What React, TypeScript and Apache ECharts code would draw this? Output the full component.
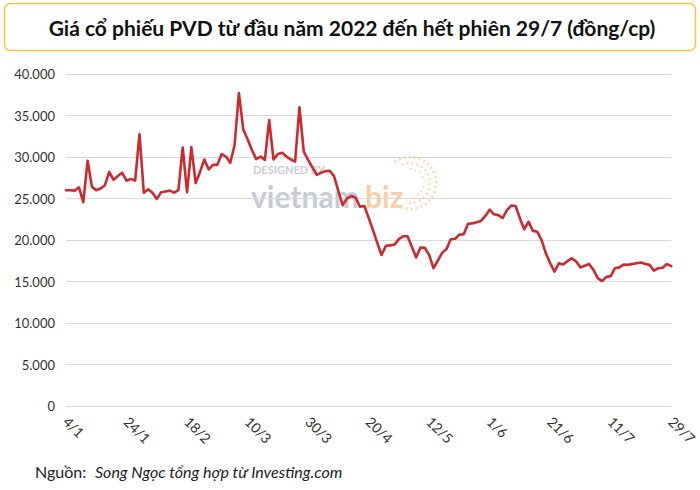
import React, { useEffect, useRef } from "react";
import * as echarts from "echarts";

const TITLE = "Giá cổ phiếu PVD từ đầu năm 2022 đến hết phiên 29/7 (đồng/cp)";

const dates: string[] = [
  "4/1","5/1","6/1","7/1","10/1","11/1","12/1","13/1","14/1","17/1","18/1","19/1","20/1","21/1","24/1","25/1","26/1","27/1","28/1",
  "7/2","8/2","9/2","10/2","11/2","14/2","15/2","16/2","17/2","18/2","21/2","22/2","23/2","24/2","25/2","28/2",
  "1/3","2/3","3/3","4/3","7/3","8/3","9/3","10/3","11/3","14/3","15/3","16/3","17/3","18/3","21/3","22/3","23/3","24/3","25/3","28/3","29/3","30/3","31/3",
  "1/4","4/4","5/4","6/4","7/4","8/4","12/4","13/4","14/4","15/4","18/4","19/4","20/4","21/4","22/4","25/4","26/4","27/4","28/4","29/4",
  "4/5","5/5","6/5","9/5","10/5","11/5","12/5","13/5","16/5","17/5","18/5","19/5","20/5","23/5","24/5","25/5","26/5","27/5","30/5","31/5",
  "1/6","2/6","3/6","6/6","7/6","8/6","9/6","10/6","13/6","14/6","15/6","16/6","17/6","20/6","21/6","22/6","23/6","24/6","27/6","28/6","29/6","30/6",
  "1/7","4/7","5/7","6/7","7/7","8/7","11/7","12/7","13/7","14/7","15/7","18/7","19/7","20/7","21/7","22/7","25/7","26/7","27/7","28/7","29/7",
];

const prices: number[] = [
  26000, 26000, 25950, 26350, 24550, 29550, 26400, 26000, 26200, 26600,
  28200, 27250, 27700, 28100, 27150, 27350, 27150, 32750, 25700, 26100,
  25700, 24950, 25750, 25850, 25950, 25700, 26000, 31150, 25750, 31200,
  26850, 28200, 29700, 28500, 29050, 29050, 30350, 30050, 29300, 31450,
  37700, 33350, 32150, 30850, 29750, 30050, 29650, 34450, 29700, 30350,
  30500, 30050, 29700, 29450, 36000, 30650, 29650, 28750, 27850, 28100,
  28300, 28350, 27700, 25900, 24200, 25000, 25300, 25100, 24000, 24100,
  22700, 21200, 19650, 18200, 19300, 19350, 19450, 20100, 20450, 20450,
  19200, 17900, 19100, 19050, 18200, 16600, 17500, 18450, 18900, 20100,
  20150, 20650, 20700, 21950, 22000, 22150, 22300, 22900, 23650, 23100,
  23000, 22650, 23600, 24150, 24100, 22600, 21300, 22200, 21100, 21000,
  20000, 18400, 17200, 16200, 17200, 17050, 17450, 17800, 17400, 16700,
  16900, 17100, 16400, 15400, 15050, 15550, 15650, 16600, 16700, 17050,
  17000, 17100, 17200, 17300, 17100, 17000, 16300, 16600, 16650, 17100, 16850,
];

const yMax = 40000;
const yStep = 5000;

const FONT = "Lato, 'Noto Sans', sans-serif";

export default function App() {
  const ref = useRef<HTMLDivElement>(null);
  useEffect(() => {
    if (!ref.current) return;
    const chart = echarts.init(ref.current, undefined, { renderer: "svg" });
    chart.setOption({
      animation: false,
      backgroundColor: "#ffffff",
      grid: { left: 66, right: 28, top: 74, bottom: 84, containLabel: false },
      xAxis: {
        type: "category",
        data: dates,
        boundaryGap: false,
        axisLine: { show: true, lineStyle: { color: "#d9d9d9", width: 1 } },
        axisTick: { show: false },
        axisLabel: {
          interval: 13,
          rotate: -45,
          margin: 13,
          color: "#333333",
          fontSize: 14,
          fontFamily: FONT,
        },
        splitLine: { show: false },
      },
      yAxis: {
        type: "value",
        min: 0,
        max: yMax,
        interval: yStep,
        axisLine: { show: false },
        axisTick: { show: false },
        axisLabel: {
          color: "#333333",
          fontSize: 13,
          fontFamily: FONT,
          margin: 11,
          formatter: (v: number) => (v === 0 ? "0" : `${v / 1000}.000`),
        },
        splitLine: { lineStyle: { color: "#d9d9d9", width: 1 } },
      },
      series: [
        {
          type: "line",
          data: prices,
          symbol: "none",
          z: 5,
          lineStyle: { color: "#cc2a2e", width: 2.6, join: "round", cap: "round" },
        },
      ],
      graphic: [
        {
          type: "rect",
          shape: { x: 4.5, y: 3.5, width: 691, height: 47, r: 6 },
          style: { fill: "#ffffff", stroke: "#f5c842", lineWidth: 1.5 },
          z: 1,
        },
        {
          type: "text",
          x: 352,
          y: 27,
          style: {
            text: TITLE,
            font: `bold 21px ${FONT}`,
            fill: "#111111",
            align: "center",
            verticalAlign: "middle",
          },
          z: 2,
        },
        {
          type: "text",
          x: 35,
          y: 471,
          style: {
            text: "Nguồn:",
            font: `16px ${FONT}`,
            fill: "#222222",
            align: "left",
            verticalAlign: "middle",
          },
        },
        {
          type: "text",
          x: 95,
          y: 471,
          style: {
            text: "Song Ngọc tổng hợp từ Investing.com",
            font: `italic 16px ${FONT}`,
            fill: "#222222",
            align: "left",
            verticalAlign: "middle",
          },
        },
        // watermark
        {
          type: "group",
          silent: true,
          z: 0,
          children: [
            {
              type: "text",
              x: 253,
              y: 175,
              style: {
                text: "DESIGNED BY",
                font: `bold 11px ${FONT}`,
                fill: "#c9cdd6",
                align: "left",
                verticalAlign: "bottom",
                letterSpacing: 1.5,
              } as any,
            },
            {
              type: "text",
              x: 251,
              y: 181,
              style: {
                text: "vietnam",
                font: `bold 30px ${FONT}`,
                fill: "#c6cbd6",
                align: "left",
                verticalAlign: "top",
                letterSpacing: 1,
              } as any,
            },
            {
              type: "text",
              x: 365,
              y: 181,
              style: {
                text: "biz",
                font: `bold 30px ${FONT}`,
                fill: "#f9cfa8",
                align: "left",
                verticalAlign: "top",
                letterSpacing: 2,
              } as any,
            },
            {
              type: "arc",
              shape: { cx: 410, cy: 183, r: 26, startAngle: -2.2, endAngle: 2.0 },
              style: { stroke: "#fbd9bb", lineWidth: 3, fill: "none", lineDash: [2, 3] },
            },
            {
              type: "arc",
              shape: { cx: 410, cy: 183, r: 20, startAngle: -2.0, endAngle: 1.8 },
              style: { stroke: "#fbd9bb", lineWidth: 2.5, fill: "none", lineDash: [2, 3] },
            },
            {
              type: "arc",
              shape: { cx: 410, cy: 183, r: 14, startAngle: -1.6, endAngle: 1.4 },
              style: { stroke: "#fbe0c8", lineWidth: 2, fill: "none", lineDash: [2, 3] },
            },
          ],
        },
      ],
    });
    return () => chart.dispose();
  }, []);
  return (
    <div
      ref={ref}
      style={{ position: "fixed", left: 0, top: 0, width: 700, height: 490 }}
    />
  );
}
